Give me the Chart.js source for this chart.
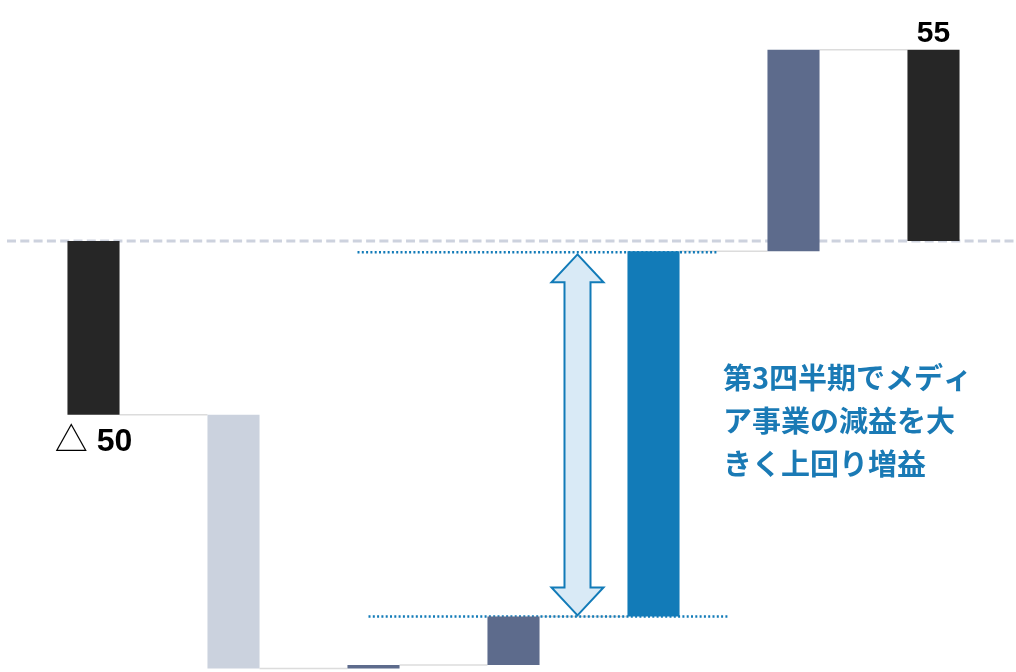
<!DOCTYPE html>
<html>
<head>
<meta charset="utf-8">
<script src="https://cdn.jsdelivr.net/npm/chart.js@4/dist/chart.umd.min.js"></script>
<style>
	html, body { margin: 0; padding: 0; background: #fff; }
	#wrap { width: 1016px; height: 672px; }
</style>
</head>
<body>
<div id="wrap"><canvas id="waterfallChart"></canvas></div>
<script>
'use strict'
/*-----Data-----*/
var steps = ['前期', '減少', '調整1', '調整2', '第3四半期', '第4四半期', '通期'];
var barStart = [0, -50, -123, -122, -108, -3, 0];
var barEnd = [-50, -123, -122, -108, -3, 55, 55];
var barColors = ['#262626', '#cbd2de', '#5d6b8c', '#5d6b8c', '#127bb8', '#5d6b8c', '#262626'];
var labelMarks = ['△', '', '', '', '', '', ''];
var labelNumbers = ['50', '', '', '', '', '', '55'];
var bracketFrom = -108;
var bracketTo = -3;
var noteLines = ['第3四半期でメディ', 'ア事業の減益を大', 'きく上回り増益'];

var blue = '#127bb8';

/*-----Overlay drawing-----*/
var overlay = {
	id: 'overlay',
	beforeDatasetsDraw: function(chart) {
		var ctx = chart.ctx;
		var x = chart.scales.x;
		var y = chart.scales.y;
		var meta = chart.getDatasetMeta(0);
		ctx.save();

		// zero line
		var y0 = y.getPixelForValue(0);
		ctx.strokeStyle = '#cdd2de';
		ctx.lineWidth = 3;
		ctx.setLineDash([9, 4.3]);
		ctx.beginPath();
		ctx.moveTo(7, y0);
		ctx.lineTo(chart.width, y0);
		ctx.stroke();
		ctx.setLineDash([]);

		// connectors between bars
		ctx.strokeStyle = '#dcdcdc';
		ctx.lineWidth = 1.5;
		for (var i = 0; i < meta.data.length - 1; i++) {
			var a = meta.data[i], b = meta.data[i + 1];
			var yy = y.getPixelForValue(barEnd[i]);
			ctx.beginPath();
			ctx.moveTo(a.x + a.width / 2, yy);
			ctx.lineTo(b.x - b.width / 2, yy);
			ctx.stroke();
		}

		// dotted bracket lines
		var yTop = y.getPixelForValue(bracketTo) + 1;
		var yBot = y.getPixelForValue(bracketFrom);
		ctx.strokeStyle = blue;
		ctx.lineWidth = 2.5;
		ctx.setLineDash([2, 2.3]);
		ctx.beginPath();
		ctx.moveTo(x.getPixelForValue(2) - 16, yTop);
		ctx.lineTo(x.getPixelForValue(4) + 64, yTop);
		ctx.moveTo(x.getPixelForValue(2) - 5, yBot);
		ctx.lineTo(x.getPixelForValue(4) + 74, yBot);
		ctx.stroke();
		ctx.setLineDash([]);

		// double arrow
		var cx = x.getPixelForValue(3) + 64;
		var t = yTop + 2, b = yBot - 1;
		var hh = 28, hw = 26, sw = 13;
		ctx.beginPath();
		ctx.moveTo(cx, t);
		ctx.lineTo(cx + hw, t + hh);
		ctx.lineTo(cx + sw, t + hh);
		ctx.lineTo(cx + sw, b - hh);
		ctx.lineTo(cx + hw, b - hh);
		ctx.lineTo(cx, b);
		ctx.lineTo(cx - hw, b - hh);
		ctx.lineTo(cx - sw, b - hh);
		ctx.lineTo(cx - sw, t + hh);
		ctx.lineTo(cx - hw, t + hh);
		ctx.closePath();
		ctx.fillStyle = '#d9eaf6';
		ctx.fill();
		ctx.strokeStyle = blue;
		ctx.lineWidth = 2;
		ctx.stroke();
		ctx.restore();
	},
	afterDatasetsDraw: function(chart) {
		var ctx = chart.ctx;
		var y = chart.scales.y;
		var meta = chart.getDatasetMeta(0);
		ctx.save();

		// value labels (△ marks a negative value)
		ctx.fillStyle = '#000';
		ctx.textBaseline = 'alphabetic';
		meta.data.forEach(function(bar, i) {
			if (!labelNumbers[i]) return;
			var yStart = y.getPixelForValue(barStart[i]);
			var yEnd = y.getPixelForValue(barEnd[i]);
			if (barEnd[i] < barStart[i]) {
				var base = Math.max(yStart, yEnd) + 36;
				ctx.font = 'bold 32px "Liberation Sans", Arial, sans-serif';
				var numW = ctx.measureText(labelNumbers[i]).width;
				ctx.font = '33px "Noto Sans CJK JP", sans-serif';
				var markW = ctx.measureText(labelMarks[i]).width;
				var gap = 9;
				var left = bar.x - (markW + gap + numW) / 2;
				ctx.textAlign = 'left';
				ctx.fillText(labelMarks[i], left, base);
				ctx.font = 'bold 32px "Liberation Sans", Arial, sans-serif';
				ctx.fillText(labelNumbers[i], left + markW + gap, base);
			} else {
				ctx.font = 'bold 30px "Liberation Sans", Arial, sans-serif';
				ctx.textAlign = 'center';
				ctx.fillText(labelNumbers[i], bar.x, Math.min(yStart, yEnd) - 8);
			}
		});

		// note text
		ctx.fillStyle = '#1a7ab5';
		ctx.font = 'bold 29px "Noto Sans CJK JP", sans-serif';
		ctx.textAlign = 'left';
		ctx.textBaseline = 'middle';
		noteLines.forEach(function(line, i) {
			ctx.fillText(line, 723, 378 + i * 43);
		});
		ctx.restore();
	}
};

/*-----WaterfallChart-----*/
var ctx = document.getElementById('waterfallChart');
var myChart = new Chart(ctx, {
	type: 'bar',
	data: {
		labels: steps,
		datasets: [{
			data: barStart.map(function(s, i) { return [s, barEnd[i]]; }),
			backgroundColor: barColors,
			borderWidth: 0,
			borderSkipped: false,
			barPercentage: 0.372,
			categoryPercentage: 1
		}]
	},
	options: {
		responsive: true,
		maintainAspectRatio: false,
		animation: false,
		layout: { padding: { left: 23.5, right: 12.5, top: 0, bottom: 0 } },
		plugins: {
			legend: { display: false },
			tooltip: { enabled: false }
		},
		scales: {
			x: { display: false },
			y: { display: false, min: -124, max: 69.3 }
		}
	},
	plugins: [overlay]
});
</script>
</body>
</html>
